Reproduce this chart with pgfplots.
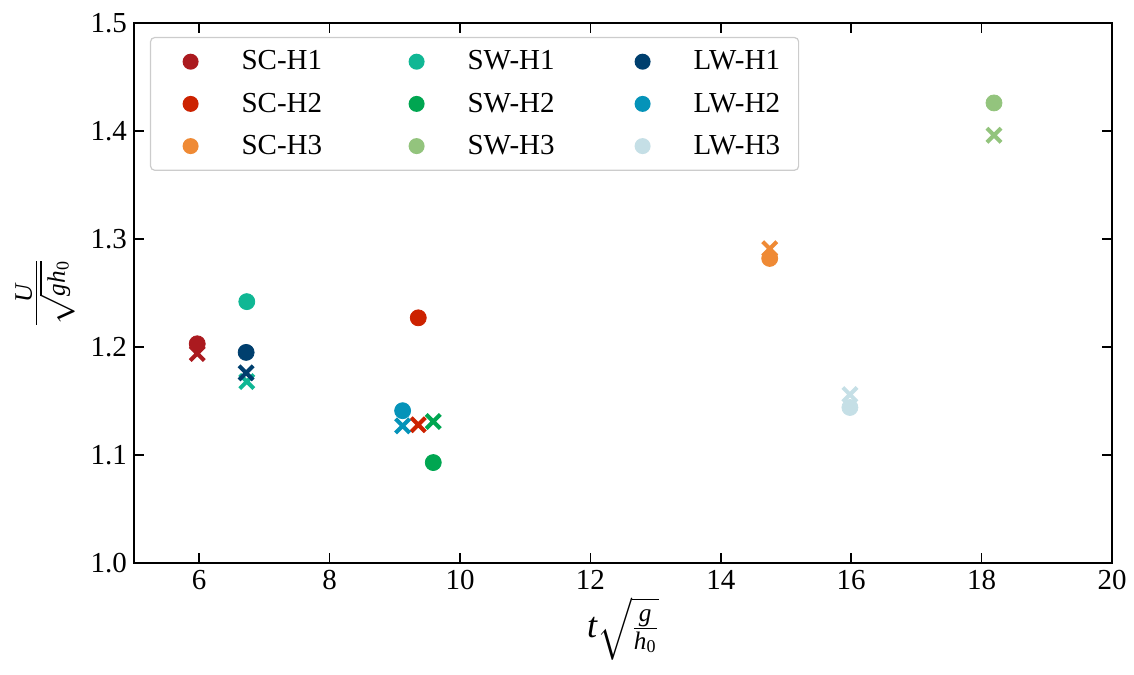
\documentclass[border=0pt]{standalone}
\usepackage{amsmath}
\usepackage{fontspec}
\setmainfont{Liberation Serif}
\usepackage{pgfplots}
\pgfplotsset{compat=1.18}
\definecolor{scA}{HTML}{AB1A1F}
\definecolor{scB}{HTML}{CC2200}
\definecolor{scC}{HTML}{EF8A35}
\definecolor{swA}{HTML}{10B794}
\definecolor{swB}{HTML}{00A651}
\definecolor{swC}{HTML}{93C47D}
\definecolor{lwA}{HTML}{003F6E}
\definecolor{lwB}{HTML}{0593B9}
\definecolor{lwC}{HTML}{C5DFE6}
\pgfplotsset{
  circ/.style={only marks, mark=*, mark size=4pt, draw=none, color=#1, mark options={draw=none, fill=#1},
    legend image code/.code={\path (0pt,0pt) -- (18pt,0pt); \fill[#1] (14pt,0pt) circle[radius=4pt];}},
  crs/.style={only marks, mark=x, mark size=5pt, color=#1, mark options={line width=2pt, draw=#1}},
}
\begin{document}
\begin{tikzpicture}
\begin{axis}[
  width=489pt, height=270pt, scale only axis,
  xmin=5, xmax=20, ymin=1.0, ymax=1.5,
  xtick={6,8,10,12,14,16,18,20},
  ytick={1.0,1.1,1.2,1.3,1.4,1.5},
  yticklabel style={/pgf/number format/fixed,/pgf/number format/fixed zerofill,/pgf/number format/precision=1},
  /pgf/number format/assume math mode=true,
  tick label style={font=\fontsize{14.5}{17}\selectfont},
  xtick pos=both, ytick pos=both, tick align=inside,
  major tick length=5pt,
  every tick/.style={black, line width=0.8pt},
  axis line style={line width=1pt},
  xlabel={\fontsize{18}{21}\selectfont $\textit{t}\sqrt{\frac{\textit{g}}{\textit{h}_{\textrm{0}}}}$},
  ylabel={\fontsize{18}{21}\selectfont $\frac{\textit{U}}{\sqrt{\textit{g}\textit{h}_{\textrm{0}}}}$},
  xlabel style={at={(rel axis cs:0.5,0)}, anchor=center, yshift=-33pt},
  ylabel style={at={(rel axis cs:0,0.5)}, anchor=center, yshift=44.5pt},
  legend columns=3,
  legend style={at={(rel axis cs:0,1)}, anchor=north west, xshift=8pt, yshift=-7pt,
    draw=black!20, line width=0.6pt, rounded corners=2pt, fill=white,
    inner xsep=6pt, inner ysep=5pt,
    font=\fontsize{14.5}{17}\selectfont,
    nodes={text width=45pt, inner sep=1.5pt, align=left},
    row sep=7pt,
    /tikz/every odd column/.append style={column sep=20pt},
    /tikz/every even column/.append style={column sep=27pt}},
]
\addlegendimage{circ=scA}\addlegendentry{SC-H1}
\addlegendimage{circ=swA}\addlegendentry{SW-H1}
\addlegendimage{circ=lwA}\addlegendentry{LW-H1}
\addlegendimage{circ=scB}\addlegendentry{SC-H2}
\addlegendimage{circ=swB}\addlegendentry{SW-H2}
\addlegendimage{circ=lwB}\addlegendentry{LW-H2}
\addlegendimage{circ=scC}\addlegendentry{SC-H3}
\addlegendimage{circ=swC}\addlegendentry{SW-H3}
\addlegendimage{circ=lwC}\addlegendentry{LW-H3}
% H1
\addplot[crs=scA, forget plot] coordinates {(5.97,1.194)};
\addplot[circ=scA, forget plot] coordinates {(5.97,1.203)};
\addplot[circ=swA, forget plot] coordinates {(6.73,1.242)};
\addplot[crs=swA, forget plot] coordinates {(6.73,1.168)};
\addplot[circ=lwA, forget plot] coordinates {(6.72,1.195)};
\addplot[crs=lwA, forget plot] coordinates {(6.72,1.176)};
% H2
\addplot[circ=scB, forget plot] coordinates {(9.36,1.227)};
\addplot[crs=scB, forget plot] coordinates {(9.36,1.128)};
\addplot[circ=swB, forget plot] coordinates {(9.59,1.093)};
\addplot[crs=swB, forget plot] coordinates {(9.59,1.131)};
\addplot[circ=lwB, forget plot] coordinates {(9.12,1.141)};
\addplot[crs=lwB, forget plot] coordinates {(9.12,1.127)};
% H3
\addplot[crs=scC, forget plot] coordinates {(14.75,1.291)};
\addplot[circ=scC, forget plot] coordinates {(14.75,1.282)};
\addplot[crs=lwC, forget plot] coordinates {(15.98,1.156)};
\addplot[circ=lwC, forget plot] coordinates {(15.98,1.144)};
\addplot[circ=swC, forget plot] coordinates {(18.19,1.426)};
\addplot[crs=swC, forget plot] coordinates {(18.19,1.396)};
\end{axis}
\pgfresetboundingbox
\path[use as bounding box] ([xshift=-67pt,yshift=-55.5pt]current axis.south west) rectangle ([xshift=11pt,yshift=11.5pt]current axis.north east);
\end{tikzpicture}
\end{document}
